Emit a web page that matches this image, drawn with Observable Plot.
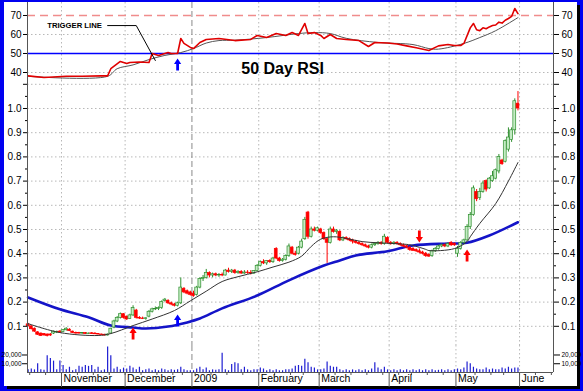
<!DOCTYPE html>
<html><head><meta charset="utf-8">
<script src="https://cdn.jsdelivr.net/npm/d3@7"></script>
<script src="https://cdn.jsdelivr.net/npm/@observablehq/plot@0.6"></script>
<style>
html,body{margin:0;padding:0;background:#0000f0;}
#frame{position:relative;width:583px;height:391px;background:#0000f0;overflow:hidden;}
#shadow{position:absolute;left:7px;top:5px;width:573px;height:384px;background:#000;}
#paper{position:absolute;left:4px;top:2px;width:573px;height:384px;background:#fff;}
.panel{position:absolute;left:0;}
</style></head><body>
<div id="frame"><div id="shadow"></div><div id="paper"></div></div>
<script>
const monthLabels = ["November","December","2009","February","March","April","May","June"];
const monthStarts = ["2008-11-01","2008-12-01","2009-01-01","2009-02-01","2009-03-01","2009-04-01","2009-05-01","2009-06-01"];
const rsiTicks = [40,50,60,70];
const priceTicks = [0.1,0.2,0.3,0.4,0.5,0.6,0.7,0.8,0.9,1.0];
const volumeTicks = [10000,20000];

// date, open, high, low, close, volume
const candleRows = [
["2008-10-17",.108,.112,.098,.100,3000],["2008-10-20",.100,.102,.085,.088,4000],["2008-10-21",.090,.093,.075,.078,3000],
["2008-10-22",.075,.078,.062,.065,10000],["2008-10-23",.070,.072,.058,.060,3000],["2008-10-24",.068,.070,.060,.062,2500],
["2008-10-27",.066,.068,.056,.060,19000],["2008-10-28",.066,.070,.058,.062,16000],["2008-10-29",.070,.080,.066,.078,13000],
["2008-10-30",.074,.080,.070,.076,3000],["2008-10-31",.078,.082,.072,.074,13000],
["2008-11-03",.076,.086,.074,.084,8000],["2008-11-04",.084,.094,.080,.090,3000],["2008-11-05",.086,.090,.078,.080,6000],
["2008-11-06",.078,.080,.070,.072,2000],["2008-11-07",.073,.076,.068,.070,3000],["2008-11-10",.072,.075,.068,.070,7000],
["2008-11-11",.070,.074,.067,.072,6000],["2008-11-12",.072,.074,.066,.068,8000],["2008-11-13",.068,.072,.066,.070,7000],
["2008-11-14",.071,.074,.067,.068,8000],["2008-11-17",.070,.073,.066,.067,3000],["2008-11-18",.068,.070,.064,.066,6000],
["2008-11-19",.066,.068,.062,.064,2000],["2008-11-20",.065,.067,.060,.062,3000],["2008-11-21",.062,.068,.060,.066,29000],
["2008-11-24",.070,.092,.068,.090,19000],["2008-11-25",.095,.125,.090,.120,4000],["2008-11-26",.120,.140,.115,.135,6000],
["2008-11-27",.135,.155,.130,.150,3000],["2008-11-28",.150,.152,.130,.135,5000],
["2008-12-01",.140,.142,.125,.128,4000],["2008-12-02",.130,.150,.128,.145,7000],["2008-12-03",.145,.185,.140,.175,5000],
["2008-12-04",.165,.170,.130,.135,3000],["2008-12-05",.135,.140,.128,.132,6000],["2008-12-08",.132,.138,.128,.130,2000],
["2008-12-09",.130,.135,.125,.133,3000],["2008-12-10",.140,.165,.135,.160,4000],["2008-12-11",.160,.175,.155,.170,2000],
["2008-12-12",.170,.180,.165,.172,3000],["2008-12-15",.172,.180,.165,.175,2000],["2008-12-16",.175,.205,.170,.200,4000],
["2008-12-17",.205,.215,.200,.210,3000],["2008-12-18",.205,.210,.190,.195,2000],["2008-12-19",.195,.200,.185,.190,3000],
["2008-12-22",.190,.195,.180,.185,2500],["2008-12-23",.185,.200,.180,.195,3000],["2008-12-24",.195,.300,.190,.260,6000],
["2008-12-29",.255,.260,.235,.240,3000],["2008-12-30",.245,.250,.230,.235,2000],["2008-12-31",.240,.245,.225,.230,2000],
["2009-01-02",.235,.245,.220,.225,2000],["2009-01-05",.230,.265,.225,.260,4000],["2009-01-06",.260,.300,.255,.295,6000],
["2009-01-07",.295,.310,.285,.300,3000],["2009-01-08",.300,.335,.295,.320,5000],["2009-01-09",.320,.325,.300,.310,2000],
["2009-01-12",.310,.320,.300,.315,3000],["2009-01-13",.315,.320,.305,.310,2500],["2009-01-14",.310,.318,.302,.312,3000],
["2009-01-15",.312,.320,.305,.310,22000],["2009-01-16",.310,.335,.308,.330,3000],["2009-01-19",.330,.340,.320,.325,2000],
["2009-01-20",.325,.335,.318,.330,9000],["2009-01-21",.330,.335,.315,.320,11000],["2009-01-22",.320,.330,.315,.325,10000],
["2009-01-23",.325,.330,.315,.318,3000],["2009-01-26",.318,.330,.315,.322,6000],["2009-01-27",.322,.330,.315,.320,3000],
["2009-01-28",.320,.330,.312,.318,2000],["2009-01-29",.318,.330,.315,.328,3000],["2009-01-30",.328,.355,.325,.350,3000],
["2009-02-02",.350,.370,.345,.365,5000],["2009-02-03",.365,.375,.355,.360,4000],["2009-02-04",.360,.372,.352,.370,2000],
["2009-02-05",.370,.375,.360,.365,3000],["2009-02-06",.365,.385,.360,.380,2000],["2009-02-09",.420,.425,.375,.380,3000],
["2009-02-10",.380,.385,.365,.370,2000],["2009-02-11",.370,.380,.365,.375,2000],["2009-02-12",.375,.395,.370,.390,3000],
["2009-02-13",.390,.440,.385,.430,3000],["2009-02-17",.425,.430,.395,.400,4000],["2009-02-18",.400,.410,.390,.395,7000],
["2009-02-19",.400,.430,.395,.425,8000],["2009-02-20",.425,.460,.420,.450,7000],["2009-02-23",.460,.550,.455,.540,15000],
["2009-02-24",.570,.575,.460,.470,11000],["2009-02-25",.470,.510,.465,.500,6000],["2009-02-26",.500,.510,.490,.495,5000],
["2009-02-27",.495,.510,.490,.505,3000],
["2009-03-02",.500,.505,.480,.485,3000],["2009-03-03",.485,.490,.455,.460,4000],["2009-03-04",.460,.465,.360,.445,12000],
["2009-03-05",.445,.510,.440,.500,7000],["2009-03-06",.500,.510,.485,.490,6000],["2009-03-09",.490,.500,.480,.495,6000],
["2009-03-10",.490,.495,.450,.455,3000],["2009-03-11",.455,.470,.450,.465,2000],["2009-03-12",.465,.470,.455,.460,3000],
["2009-03-13",.460,.465,.450,.455,2000],["2009-03-16",.455,.460,.440,.450,3000],["2009-03-17",.450,.455,.440,.445,2000],
["2009-03-18",.445,.450,.435,.440,3000],["2009-03-19",.440,.445,.430,.435,2000],["2009-03-20",.435,.440,.425,.430,3000],
["2009-03-23",.430,.435,.420,.425,2000],["2009-03-24",.425,.440,.420,.435,4000],["2009-03-25",.435,.445,.430,.440,11000],
["2009-03-26",.440,.450,.435,.445,5000],["2009-03-27",.445,.450,.435,.440,3000],["2009-03-30",.440,.480,.435,.470,6000],
["2009-03-31",.465,.470,.440,.445,3000],
["2009-04-01",.445,.450,.435,.440,2000],["2009-04-02",.440,.450,.435,.445,3000],["2009-04-03",.445,.450,.435,.440,2000],
["2009-04-06",.440,.445,.430,.435,3000],["2009-04-07",.435,.440,.425,.430,2000],["2009-04-08",.430,.435,.420,.425,3000],
["2009-04-09",.425,.430,.410,.415,2000],["2009-04-13",.420,.425,.410,.412,3000],["2009-04-14",.415,.420,.405,.410,2000],
["2009-04-15",.410,.420,.400,.405,3000],["2009-04-16",.405,.410,.395,.400,2000],["2009-04-17",.400,.405,.385,.390,3000],
["2009-04-20",.395,.400,.385,.388,2000],["2009-04-21",.390,.415,.385,.410,3000],["2009-04-22",.410,.425,.405,.420,2000],
["2009-04-23",.420,.435,.415,.430,2500],["2009-04-24",.430,.440,.425,.435,3000],["2009-04-27",.435,.440,.425,.430,2000],
["2009-04-28",.430,.445,.425,.440,3000],["2009-04-29",.445,.450,.430,.435,2000],["2009-04-30",.440,.445,.430,.435,3000],
["2009-05-01",.400,.430,.385,.420,4000],["2009-05-04",.420,.450,.415,.445,3000],["2009-05-05",.445,.460,.440,.455,5000],
["2009-05-06",.455,.520,.450,.510,12000],["2009-05-07",.510,.570,.500,.560,10000],["2009-05-08",.560,.680,.555,.670,6000],
["2009-05-11",.655,.665,.615,.625,4000],["2009-05-12",.630,.670,.620,.655,3000],["2009-05-13",.655,.700,.650,.690,3000],
["2009-05-14",.700,.705,.655,.665,5000],["2009-05-15",.670,.715,.665,.710,3000],["2009-05-19",.700,.740,.695,.720,4000],
["2009-05-20",.710,.750,.705,.745,3000],["2009-05-21",.740,.810,.730,.800,3000],["2009-05-22",.785,.790,.765,.770,5000],
["2009-05-25",.780,.870,.775,.865,4000],["2009-05-26",.830,.920,.820,.880,6000],["2009-05-27",.870,.920,.860,.910,4000],
["2009-05-28",.910,1.040,.890,1.030,5000],["2009-05-29",1.020,1.070,.990,1.000,5000]
];

const shortMA = [["2008-10-17",.111],["2008-10-31",.074],["2008-11-18",.062],["2008-11-24",.070],["2008-12-03",.103],
["2008-12-11",.130],["2008-12-22",.165],["2008-12-31",.205],["2009-01-08",.245],["2009-01-15",.285],["2009-01-22",.305],
["2009-01-30",.325],["2009-02-06",.345],["2009-02-13",.365],["2009-02-20",.390],["2009-02-25",.430],["2009-03-02",.460],
["2009-03-06",.470],["2009-03-12",.463],["2009-03-19",.450],["2009-03-26",.445],["2009-04-02",.442],["2009-04-09",.437],
["2009-04-13",.434],["2009-04-17",.418],["2009-04-20",.413],["2009-04-30",.421],["2009-05-06",.450],["2009-05-07",.470],
["2009-05-12",.525],["2009-05-20",.607],["2009-05-26",.700],["2009-05-29",.777]];

const longMA = [["2008-10-17",.219],["2008-10-31",.170],["2008-11-13",.137],["2008-11-24",.103],["2008-12-03",.095],
["2008-12-09",.091],["2008-12-18",.099],["2008-12-30",.116],["2009-01-06",.132],["2009-01-15",.174],["2009-01-30",.227],
["2009-02-13",.290],["2009-03-03",.351],["2009-03-10",.372],["2009-03-17",.393],["2009-03-31",.410],["2009-04-13",.434],
["2009-04-28",.442],["2009-05-06",.445],["2009-05-15",.475],["2009-05-29",.530]];

const rsiValues = [["2008-10-17",38.2],["2008-10-24",37.4],["2008-11-04",38],["2008-11-11",38],["2008-11-19",38.2],
["2008-11-21",38.2],["2008-11-24",42],["2008-11-27",45.8],["2008-12-01",44.7],["2008-12-02",45.3],["2008-12-05",45.5],
["2008-12-10",45.3],["2008-12-11",50],["2008-12-15",49],["2008-12-17",50],["2008-12-18",50.5],["2008-12-19",50],
["2008-12-23",50],["2008-12-24",57.9],["2008-12-29",55.3],["2008-12-31",53.2],["2009-01-02",52.6],["2009-01-06",55.8],
["2009-01-08",57.4],["2009-01-14",57.9],["2009-01-21",56.8],["2009-01-28",57.4],["2009-01-30",59.5],["2009-02-04",58.4],
["2009-02-09",60.5],["2009-02-12",59.5],["2009-02-17",61],["2009-02-19",59.5],["2009-02-23",65.8],["2009-02-24",60.5],
["2009-02-26",61],["2009-03-02",59.5],["2009-03-03",57.9],["2009-03-05",60],["2009-03-09",57.9],["2009-03-12",57.4],
["2009-03-18",56.8],["2009-03-23",53.7],["2009-03-25",55.8],["2009-03-31",55.5],["2009-04-03",55],["2009-04-08",54],
["2009-04-14",53],["2009-04-20",51.6],["2009-04-23",54],["2009-04-28",54.7],["2009-04-30",54.2],["2009-05-04",54.2],
["2009-05-05",55.3],["2009-05-07",63.5],["2009-05-08",65.8],["2009-05-11",62.5],["2009-05-12",62],["2009-05-13",63.5],
["2009-05-14",63],["2009-05-15",64],["2009-05-19",64.7],["2009-05-20",65],["2009-05-21",66.5],["2009-05-22",66],
["2009-05-25",67.5],["2009-05-26",68.4],["2009-05-27",69.5],["2009-05-28",73.7],["2009-05-29",71]];

const rsiTrigger = [["2008-10-17",38],["2008-11-21",38],["2008-11-26",42],["2008-12-03",44],["2008-12-10",46.8],
["2008-12-17",49],["2008-12-24",50.5],["2009-01-02",52.6],["2009-01-08",55.5],["2009-01-14",56.8],["2009-01-21",57],
["2009-02-04",58.4],["2009-02-19",60.5],["2009-02-26",61],["2009-03-05",60.5],["2009-03-12",58],["2009-03-26",55.8],
["2009-04-13",54.7],["2009-04-20",52.6],["2009-04-23",52.3],["2009-05-05",55.3],["2009-05-12",58.4],["2009-05-20",62],
["2009-05-29",68.9]];

// signal arrows: date, tip value, direction, colour
const priceSignals = [["2008-12-03",0.095,"up","#ff0000"],["2008-12-23",0.149,"up","#0000ff"],
["2009-04-15",0.446,"down","#ff0000"],["2009-05-06",0.417,"up","#ff0000"]];
const rsiSignals = [["2008-12-23",47.4,"up","#0000ff"]];
const triggerLabel = ["2008-10-27",64.7,"TRIGGER LINE"];
const triggerLeader = [["2008-11-21",64.7],["2008-12-04",64.7],["2008-12-12",46.3]];
const panelTitle = ["2009-01-23",42.1,"50 Day RSI"];

// ---------- build ----------
const dates = candleRows.map(r => r[0]);
const idxOf = d => { const k = dates.indexOf(d); return k >= 0 ? k : dates.findIndex(x => x >= d); };
const candles = candleRows.map((r, i) => ({i, open:r[1], high:r[2], low:r[3], close:r[4], volume:r[5], up:r[4] >= r[1]}));
const pts = arr => arr.map(([d, v]) => ({i: idxOf(d), v}));
const xDomain = [-0.19, 165.17];
const monthTicks = monthStarts.map(m => { const k = dates.findIndex(d => d >= m); return (k < 0 ? dates.length : k) - 0.5; });
const janTick = monthTicks[2];
const otherMonthTicks = monthTicks.filter((t, k) => k !== 2);
const weekTicks = [];
for (let k = 1; k < dates.length; k++) {
  if (new Date(dates[k]).getUTCDay() <= new Date(dates[k-1]).getUTCDay()) weekTicks.push(k - 0.5);
}
{ let t = weekTicks[weekTicks.length-1]; while (t + 5 <= xDomain[1]) { t += 5; weekTicks.push(t); } }

const blockArrow = {draw(ctx, l) {
  const hw = 3.6, sw = 1.4, hl = 5.5;
  ctx.moveTo(-sw, 0); ctx.lineTo(-sw, -l + hl); ctx.lineTo(-hw, -l + hl); ctx.lineTo(0, -l);
  ctx.lineTo(hw, -l + hl); ctx.lineTo(sw, -l + hl); ctx.lineTo(sw, 0); ctx.closePath();
}};
const arrows = (rows) => Plot.vector(rows.map(([d, v, dir, c]) => ({i: idxOf(d), v, dir, c})), {
  x: "i", y: "v", length: 12, rotate: d => d.dir === "up" ? 0 : 180, anchor: "end",
  shape: blockArrow, fill: "c", stroke: "none"
});

const font = "'Liberation Sans', Arial, sans-serif";
const baseStyle = {fontFamily: font, background: "none", overflow: "visible", color: "#000"};
const gridStyle = {stroke: "#b8b8b8", strokeOpacity: 1, strokeDasharray: "1.5,2.5"};
const vgrid = () => [
  Plot.ruleX(otherMonthTicks, gridStyle),
  Plot.ruleX([janTick], {stroke: "#8a8a8a", strokeDasharray: "6,3"})
];
const frameLines = () => Plot.ruleX(xDomain, {stroke: "#555"});

const common = {width: 583, marginLeft: 27, marginRight: 30};

// RSI panel (page y 0..80)
const rsiPlot = Plot.plot({
  ...common, height: 80, marginTop: 2, marginBottom: 0,
  style: baseStyle,
  x: {domain: xDomain, axis: null},
  y: {domain: [35.79, 76.84], axis: null},
  marks: [
    Plot.gridY({ticks: [40, 60], ...gridStyle}),
    ...vgrid(),
    Plot.ruleY([70], {stroke: "#f08c8c", strokeWidth: 1.6, strokeDasharray: "8,5"}),
    Plot.ruleY([50], {stroke: "#0000ff", strokeWidth: 1.5}),
    Plot.line(pts(rsiTrigger), {x: "i", y: "v", stroke: "#555", strokeWidth: 1, curve: "catmull-rom"}),
    Plot.line(pts(rsiValues), {x: "i", y: "v", stroke: "#e00000", strokeWidth: 1.6}),
    Plot.line(pts(triggerLeader), {x: "i", y: "v", stroke: "#000", strokeWidth: 1}),
    Plot.text([triggerLabel], {x: d => idxOf(d[0]), y: d => d[1], text: d => d[2], textAnchor: "start",
      fontSize: 7.7, fontWeight: "bold", fill: "#000"}),
    Plot.text([panelTitle], {x: d => idxOf(d[0]), y: d => d[1], text: d => d[2], textAnchor: "start",
      fontSize: 16, fontWeight: "bold", fill: "#000"}),
    arrows(rsiSignals),
    Plot.axisY({anchor: "left", ticks: rsiTicks, tickSize: 4, tickPadding: 2, fontSize: 10, label: null}),
    Plot.axisY({anchor: "right", ticks: rsiTicks, tickSize: 5, tickPadding: 3, fontSize: 10, label: null}),
    frameLines()
  ]
});

// price panel (page y 80..345)
const minorPriceTicks = [0.15,0.25,0.35,0.45,0.55,0.65,0.75,0.85,0.95,1.05];
const pricePlot = Plot.plot({
  ...common, height: 265, marginTop: 0, marginBottom: 0,
  style: baseStyle,
  x: {domain: xDomain, axis: null},
  y: {domain: [0.02066, 1.1157], axis: null},
  marks: [
    Plot.gridY({ticks: [...priceTicks, 1.1], ...gridStyle}),
    ...vgrid(),
    Plot.line(pts(longMA), {x: "i", y: "v", stroke: "#1414c8", strokeWidth: 2.6, curve: "catmull-rom"}),
    Plot.ruleX(candles, {x: "i", y1: "low", y2: "high", stroke: d => d.up ? "#2f8f2f" : "#ff0000", strokeWidth: 1}),
    Plot.rect(candles, {x1: d => d.i - 0.45, x2: d => d.i + 0.45, y1: "open", y2: "close",
      fill: d => d.up ? "#c4ecc4" : "#ff0000", stroke: d => d.up ? "#2f8f2f" : "#ff0000", strokeWidth: 0.7}),
    Plot.line(pts(shortMA), {x: "i", y: "v", stroke: "#333", strokeWidth: 1, curve: "catmull-rom"}),
    arrows(priceSignals),
    Plot.axisY({anchor: "left", ticks: [...priceTicks, 1.1], tickSize: 4, tickPadding: 2, fontSize: 10, label: null,
      tickFormat: d => d > 1.05 ? "" : d.toFixed(1)}),
    Plot.axisY({anchor: "left", ticks: minorPriceTicks, tickSize: 2, tickFormat: () => "", label: null}),
    Plot.axisY({anchor: "right", ticks: [...priceTicks, 1.1], tickSize: 5, tickPadding: 3, fontSize: 10, label: null,
      tickFormat: d => d > 1.05 ? "" : d.toFixed(1)}),
    Plot.axisY({anchor: "right", ticks: minorPriceTicks, tickSize: 2, tickFormat: () => "", label: null}),
    frameLines()
  ]
});

// volume panel (page y 345..372) + date axis
const volumePlot = Plot.plot({
  ...common, height: 42, marginTop: 0, marginBottom: 15,
  style: baseStyle,
  x: {domain: xDomain},
  y: {domain: [0, 30857]},
  marks: [
    ...vgrid(),
    Plot.ruleX(candles, {x: "i", y1: 0, y2: "volume", stroke: "#1e1ed2", strokeWidth: 1.2}),
    Plot.ruleY([0], {stroke: "#555"}),
    Plot.axisY({anchor: "left", ticks: volumeTicks, tickSize: 5, tickPadding: 1, fontSize: 6.5, label: null}),
    Plot.axisY({anchor: "right", ticks: volumeTicks, tickSize: 6, tickPadding: 2, fontSize: 6.5, label: null}),
    Plot.axisX({anchor: "bottom", ticks: weekTicks, tickSize: 3, tickFormat: () => "", label: null, stroke: "#555"}),
    Plot.axisX({anchor: "bottom", ticks: monthTicks, tickSize: 15, tickFormat: () => "", label: null, stroke: "#555"}),
    Plot.text(monthLabels, {x: (d, k) => monthTicks[k], frameAnchor: "bottom", dy: 9, dx: 2,
      textAnchor: "start", fontSize: 10.5, fill: "#000"}),
    frameLines()
  ]
});

const frame = document.getElementById("frame");
[[rsiPlot, 0], [pricePlot, 80], [volumePlot, 345]].forEach(([svg, top]) => {
  svg.classList.add("panel");
  svg.style.top = top + "px";
  frame.appendChild(svg);
});
</script>
</body></html>
